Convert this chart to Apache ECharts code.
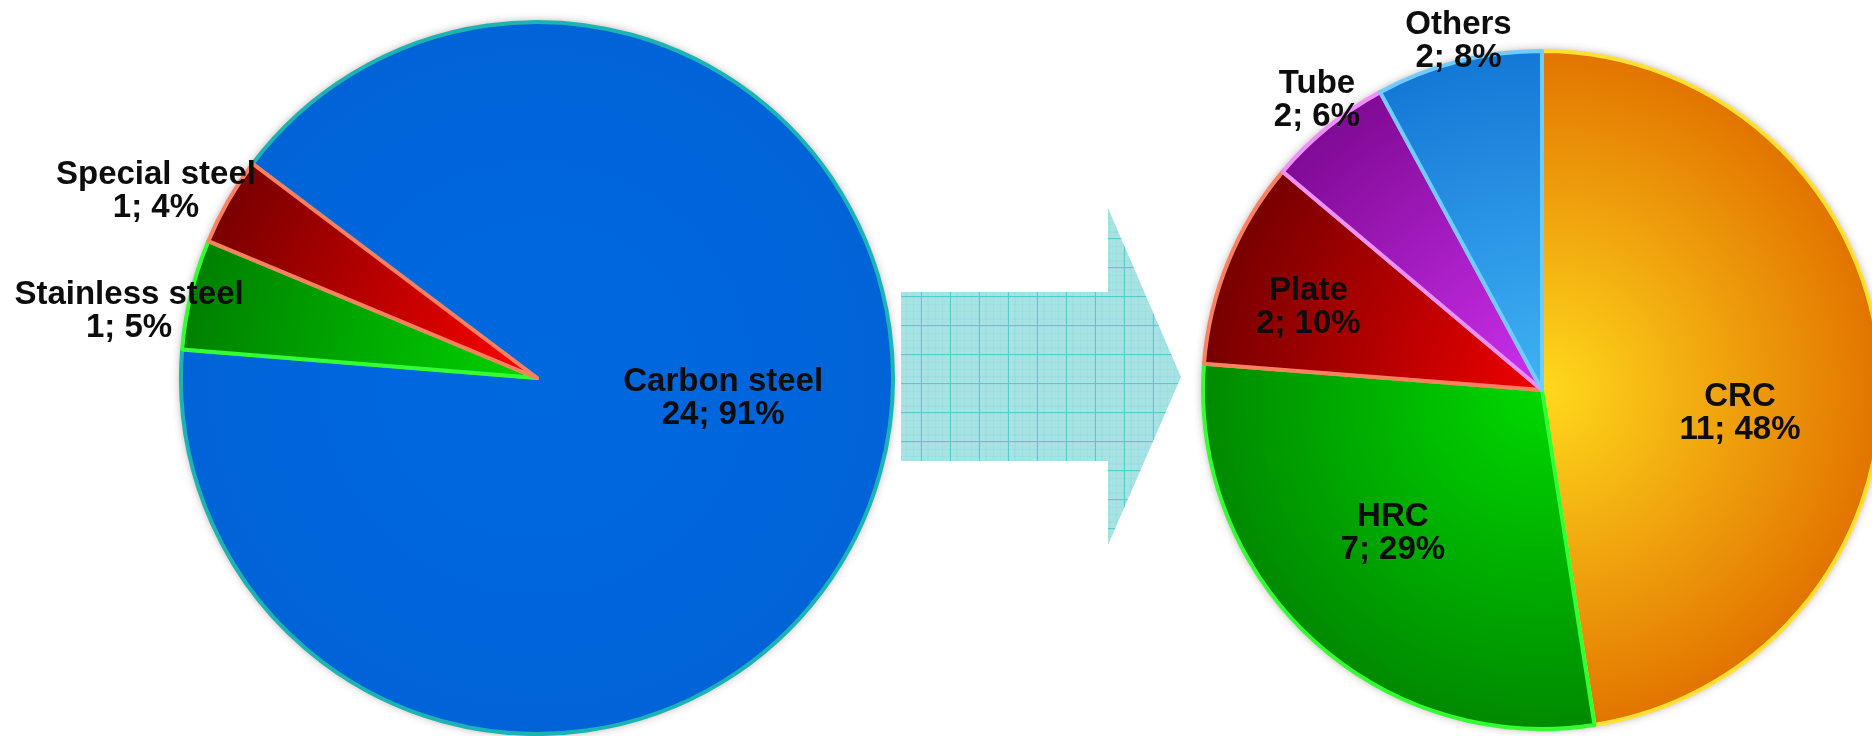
<!DOCTYPE html>
<html>
<head>
<meta charset="utf-8">
<script src="https://cdn.jsdelivr.net/npm/echarts@6/dist/echarts.min.js"></script>
<style>
  html, body { margin: 0; padding: 0; background: #ffffff; }
  #chart { width: 1872px; height: 736px; }
</style>
</head>
<body>
<div id="chart"></div>
<script>
// ---- Data ----
const beforeCategories = ['Carbon steel', 'Stainless steel', 'Special steel'];
const beforeCounts = [24, 1, 1];
const beforePercents = [91, 5, 4];

const afterCategories = ['CRC', 'HRC', 'Plate', 'Tube', 'Others'];
const afterCounts = [11, 7, 2, 2, 2];
const afterPercents = [48, 29, 10, 6, 8];

// ---- Layout / style (not data) ----
const L = { cx: 537, cy: 378, r: 356, start: 143 };
const R = { cx: 1542, cy: 390, r: 339, start: 90 };

const beforeStyle = [
  { inner: '#0068DE', outer: '#0064D8', border: '#1BB3B3' },
  { inner: '#00D400', outer: '#008000', border: '#33FF33' },
  { inner: '#FF0000', outer: '#7A0000', border: '#FF8060' }
];
const beforeLabelNudge = [[17, -44], [-232, -24], [-224, -97]];

const afterStyle = [
  { inner: '#FFD91C', outer: '#E27400', border: '#FFE033' },
  { inner: '#00D800', outer: '#008A00', border: '#33FF33' },
  { inner: '#F00000', outer: '#780000', border: '#FF8060' },
  { inner: '#CC30EE', outer: '#800A95', border: '#EE90FF' },
  { inner: '#40B2F4', outer: '#1478D6', border: '#70CCFF' }
];
const afterLabelNudge = [[26, 37], [-32, 17], [-74, -17], [-116, -156], [-41, -181]];

function radial(c, s) {
  return {
    type: 'radial', x: c.cx, y: c.cy, r: c.r, global: true,
    colorStops: [{ offset: 0, color: s.inner }, { offset: 1, color: s.outer }]
  };
}

function buildData(cats, counts, pcts, styles, nudges, geo) {
  return cats.map((name, i) => ({
    name: name,
    value: pcts[i],
    count: counts[i],
    itemStyle: { color: radial(geo, styles[i]), borderColor: styles[i].border, borderWidth: 4 },
    label: { offset: nudges[i] }
  }));
}

// Grid pattern for the arrow
function makePattern() {
  const c = document.createElement('canvas');
  c.width = 29; c.height = 29;
  const g = c.getContext('2d');
  g.fillStyle = '#A8E3E4';
  g.fillRect(0, 0, 29, 29);
  g.fillStyle = 'rgba(90,200,205,0.12)';
  for (let k = 0; k < 29; k += 7) { g.fillRect(k, 0, 1, 29); g.fillRect(0, k, 29, 1); }
  g.fillStyle = '#55CBCF';
  g.fillRect(22, 0, 1, 29);
  g.fillRect(0, 6, 29, 1);
  return c;
}

const labelCommon = {
  show: true,
  position: 'inside',
  color: '#0d0d0d',
  fontFamily: "'Liberation Sans', Arial, sans-serif",
  fontWeight: 'bold',
  fontSize: 33,
  lineHeight: 33,
  align: 'center',
  formatter: p => p.name + '\n' + p.data.count + '; ' + p.value + '%'
};

const chart = echarts.init(document.getElementById('chart'), null, { renderer: 'canvas' });
chart.setOption({
  backgroundColor: '#ffffff',
  animation: false,
  graphic: [
    { type: 'circle', z: 0, shape: { cx: L.cx, cy: L.cy, r: L.r + 1 },
      style: { fill: '#ffffff', shadowBlur: 8, shadowColor: 'rgba(90,60,60,0.45)' } },
    { type: 'circle', z: 0, shape: { cx: R.cx, cy: R.cy, r: R.r + 1 },
      style: { fill: '#ffffff', shadowBlur: 8, shadowColor: 'rgba(90,60,60,0.45)' } },
    { type: 'polygon', z: 0,
      shape: { points: [[901, 292], [1108, 292], [1108, 208], [1181, 377], [1108, 545], [1108, 461], [901, 461]] },
      style: { fill: { image: makePattern(), repeat: 'repeat' } } }
  ],
  series: [
    {
      type: 'pie',
      center: [L.cx, L.cy],
      radius: [0, L.r],
      startAngle: L.start,
      clockwise: true,
      avoidLabelOverlap: false,
      labelLine: { show: false },
      label: labelCommon,
      emphasis: { disabled: true },
      data: buildData(beforeCategories, beforeCounts, beforePercents, beforeStyle, beforeLabelNudge, L)
    },
    {
      type: 'pie',
      center: [R.cx, R.cy],
      radius: [0, R.r],
      startAngle: R.start,
      clockwise: true,
      avoidLabelOverlap: false,
      labelLine: { show: false },
      label: labelCommon,
      emphasis: { disabled: true },
      data: buildData(afterCategories, afterCounts, afterPercents, afterStyle, afterLabelNudge, R)
    }
  ]
});
</script>
</body>
</html>
